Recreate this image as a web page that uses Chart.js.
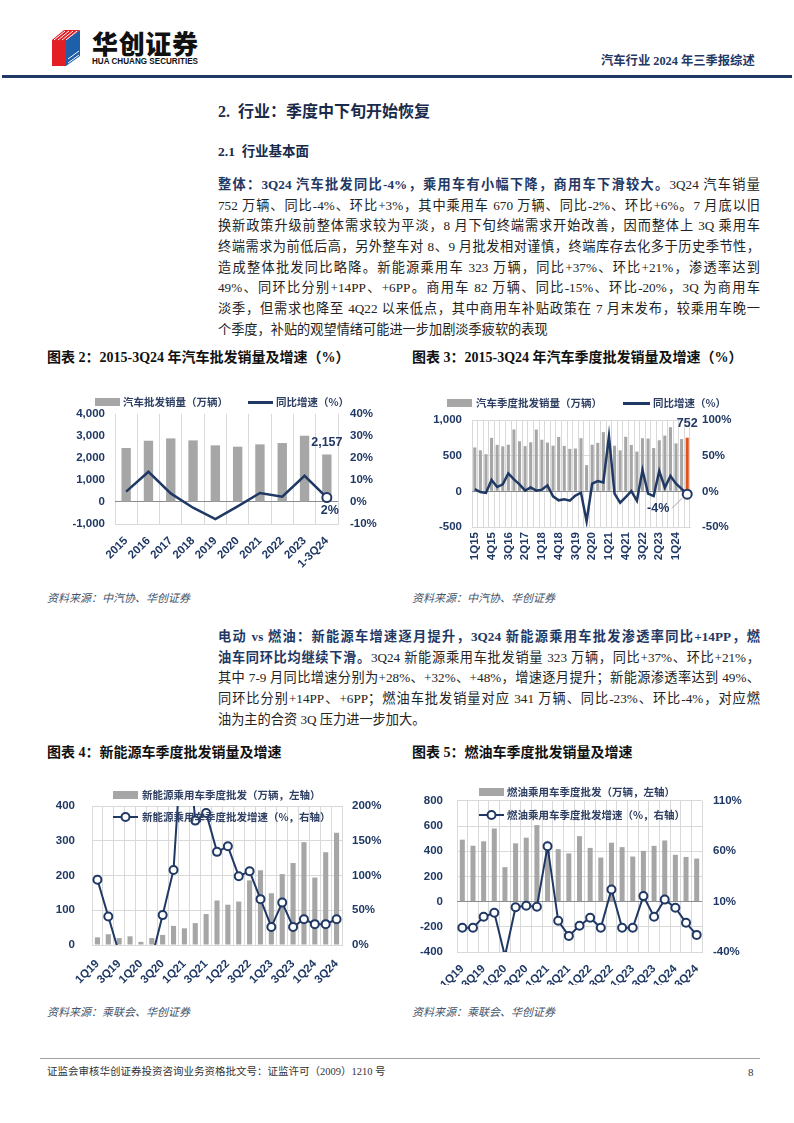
<!DOCTYPE html>
<html>
<head>
<meta charset="utf-8">
<script src="https://cdn.jsdelivr.net/npm/chart.js@4.4.1/dist/chart.umd.min.js"></script>
<style>
  html, body { margin: 0; padding: 0; background: #fff; }
  #page { position: relative; width: 794px; height: 1123px; overflow: hidden; background: #fff;
    font-family: "Liberation Serif", "Noto Sans CJK SC", serif; color: #222; }
  .abs { position: absolute; white-space: nowrap; }
  .para { position: absolute; left: 218px; width: 542px; font-size: 13.2px; line-height: 20.7px; }
  .para .ln { text-align: justify; text-align-last: justify; height: 20.7px; }
  .para .ln.last { text-align-last: left; }
  .em { font-weight: bold; color: #1f3864; }
  .ctitle { position: absolute; font-size: 14px; font-weight: bold; line-height: 18px; color: #111;
    font-family: "Liberation Serif", "Noto Sans CJK SC", serif; white-space: nowrap; }
  .src { position: absolute; font-size: 11px; font-style: italic; line-height: 14px; color: #44546a; white-space: nowrap;
    font-family: "Liberation Serif", "Noto Sans CJK SC", serif; }
  .cv { position: absolute; }
  .lgt { position: absolute; font-family: "Noto Sans CJK SC", sans-serif; font-size: 10.5px; font-weight: bold;
    color: #2e3f63; line-height: 14px; white-space: nowrap; z-index: 2; }
  .sw { position: absolute; z-index: 2; }
</style>
</head>
<body>
<div id="page">
  <!-- Header -->
  <svg class="abs" style="left:52px; top:28px;" width="160" height="40" viewBox="0 0 160 40">
    <polygon points="0,12 14,12 14,38 0,38" fill="#e31e24"/>
    <polygon points="14,12 28,2 28,28 14,38" fill="#1d5fa8"/>
    <polygon points="0,12 12,2 28,2 14,12" fill="#e31e24"/>
    <g stroke="#fff" stroke-width="1">
      <line x1="2" y1="12" x2="13" y2="3"/><line x1="6" y1="12" x2="17" y2="3"/>
      <line x1="10" y1="12" x2="21" y2="3"/><line x1="14" y1="12" x2="25" y2="3"/>
      <line x1="16" y1="31" x2="27" y2="23"/><line x1="16" y1="35" x2="27" y2="27"/>
    </g>
    <text x="40" y="26" font-family="Noto Sans CJK SC" font-weight="900" font-size="26" textLength="106" fill="#111">华创证券</text>
    <text x="40" y="36" font-family="Liberation Sans, Arial" font-weight="bold" font-size="8.5" textLength="106" lengthAdjust="spacingAndGlyphs" fill="#111">HUA CHUANG SECURITIES</text>
  </svg>
  <div class="abs" style="left:601px; top:52px; font-family:'Liberation Serif','Noto Sans CJK SC',serif; font-size:12.3px; font-weight:bold; color:#1f3864; line-height:18px;">汽车行业 2024 年三季报综述</div>
  <div class="abs" style="left:2px; top:75px; width:790px; height:3px; background:#1f3864;"></div>

  <!-- Section heading -->
  <div class="abs" style="left:218px; top:102px; font-size:16px; font-weight:bold; color:#1a2a4a; line-height:20px;">2.&nbsp; 行业：季度中下旬开始恢复</div>
  <div class="abs" style="left:218px; top:143px; font-size:13.5px; font-weight:bold; color:#1a2a4a; line-height:18px;">2.1&nbsp; 行业基本面</div>

  <div class="para" style="top:175px;">
    <div class="ln"><span class="em">整体：3Q24 汽车批发同比-4%，乘用车有小幅下降，商用车下滑较大。</span>3Q24 汽车销量</div>
    <div class="ln">752 万辆、同比-4%、环比+3%，其中乘用车 670 万辆、同比-2%、环比+6%。7 月底以旧</div>
    <div class="ln">换新政策升级前整体需求较为平淡，8 月下旬终端需求开始改善，因而整体上 3Q 乘用车</div>
    <div class="ln">终端需求为前低后高，另外整车对 8、9 月批发相对谨慎，终端库存去化多于历史季节性，</div>
    <div class="ln">造成整体批发同比略降。新能源乘用车 323 万辆，同比+37%、环比+21%，渗透率达到</div>
    <div class="ln">49%、同环比分别+14PP、+6PP。商用车 82 万辆、同比-15%、环比-20%，3Q 为商用车</div>
    <div class="ln">淡季，但需求也降至 4Q22 以来低点，其中商用车补贴政策在 7 月末发布，较乘用车晚一</div>
    <div class="ln last">个季度，补贴的观望情绪可能进一步加剧淡季疲软的表现</div>
  </div>

  <!-- Chart titles row 1 -->
  <div class="ctitle" style="left:47px; top:349px;">图表 2：2015-3Q24 年汽车批发销量及增速（%）</div>
  <div class="ctitle" style="left:412px; top:349px;">图表 3：2015-3Q24 年汽车季度批发销量及增速（%）</div>

  <canvas id="c2" class="cv" style="left:40px; top:395px;" width="355" height="190"></canvas>
  <canvas id="c3" class="cv" style="left:405px; top:395px;" width="355" height="190"></canvas>

  <!-- legends chart 2 -->
  <div class="sw" style="left:95px; top:398px; width:25px; height:8px; background:#a6a6a6;"></div>
  <div class="lgt" style="left:123px; top:395px;">汽车批发销量（万辆）</div>
  <div class="sw" style="left:248px; top:401px; width:25px; height:2.5px; background:#1f3864;"></div>
  <div class="lgt" style="left:276px; top:395px;">同比增速（%）</div>
  <!-- legends chart 3 -->
  <div class="sw" style="left:447px; top:399px; width:25px; height:8px; background:#a6a6a6;"></div>
  <div class="lgt" style="left:476px; top:396px;">汽车季度批发销量（万辆）</div>
  <div class="sw" style="left:623px; top:402px; width:27px; height:2.5px; background:#1f3864;"></div>
  <div class="lgt" style="left:653px; top:396px;">同比增速（%）</div>

  <div class="src" style="left:47px; top:591px;">资料来源：中汽协、华创证券</div>
  <div class="src" style="left:412px; top:591px;">资料来源：中汽协、华创证券</div>

  <div class="para" style="top:627px;">
    <div class="ln"><span class="em">电动 vs 燃油：新能源车增速逐月提升，3Q24 新能源乘用车批发渗透率同比+14PP，燃</span></div>
    <div class="ln"><span class="em">油车同环比均继续下滑。</span>3Q24 新能源乘用车批发销量 323 万辆，同比+37%、环比+21%，</div>
    <div class="ln">其中 7-9 月同比增速分别为+28%、+32%、+48%，增速逐月提升；新能源渗透率达到 49%、</div>
    <div class="ln">同环比分别+14PP、+6PP；燃油车批发销量对应 341 万辆、同比-23%、环比-4%，对应燃</div>
    <div class="ln last">油为主的合资 3Q 压力进一步加大。</div>
  </div>

  <!-- Chart titles row 2 -->
  <div class="ctitle" style="left:47px; top:744px;">图表 4：新能源车季度批发销量及增速</div>
  <div class="ctitle" style="left:412px; top:744px;">图表 5：燃油车季度批发销量及增速</div>

  <canvas id="c4" class="cv" style="left:40px; top:780px;" width="355" height="205"></canvas>
  <canvas id="c5" class="cv" style="left:405px; top:780px;" width="355" height="205"></canvas>

  <!-- legends chart 4 -->
  <div class="sw" style="left:113px; top:791px; width:25px; height:8px; background:#a6a6a6;"></div>
  <div class="lgt" style="left:142px; top:788px;">新能源乘用车季度批发（万辆，左轴）</div>
  <svg class="sw" style="left:111px; top:810px;" width="30" height="14"><line x1="2" y1="7" x2="27" y2="7" stroke="#1f3864" stroke-width="2"/><circle cx="14.5" cy="7" r="4" fill="#fff" stroke="#1f3864" stroke-width="2"/></svg>
  <div class="lgt" style="left:142px; top:810px;">新能源乘用车季度批发增速（%，右轴）</div>
  <!-- legends chart 5 -->
  <div class="sw" style="left:479px; top:788px; width:25px; height:8px; background:#a6a6a6;"></div>
  <div class="lgt" style="left:507px; top:785px;">燃油乘用车季度批发（万辆，左轴）</div>
  <svg class="sw" style="left:477px; top:808px;" width="30" height="14"><line x1="2" y1="7" x2="27" y2="7" stroke="#1f3864" stroke-width="2"/><circle cx="14.5" cy="7" r="4" fill="#fff" stroke="#1f3864" stroke-width="2"/></svg>
  <div class="lgt" style="left:507px; top:808px;">燃油乘用车季度批发增速（%，右轴）</div>

  <div class="src" style="left:47px; top:1005px;">资料来源：乘联会、华创证券</div>
  <div class="src" style="left:412px; top:1005px;">资料来源：乘联会、华创证券</div>

  <!-- Footer -->
  <div class="abs" style="left:40px; top:1058px; width:720px; height:1px; background:#a0a0a0;"></div>
  <div class="abs" style="left:47px; top:1065px; font-size:10.5px; line-height:14px; color:#333;">证监会审核华创证券投资咨询业务资格批文号：证监许可（2009）1210 号</div>
  <div class="abs" style="left:748px; top:1065px; font-size:11px; line-height:14px; color:#333;">8</div>
</div>

<script>
// ---- data: annual wholesale (chart 2) ----
const yearLabels = ['2015', '2016', '2017', '2018', '2019', '2020', '2021', '2022', '2023', '1-3Q24'];
const yearSales = [2451, 2782, 2887, 2797, 2571, 2511, 2616, 2677, 3008, 2157];
const yearYoy = [4.7, 13.7, 3.9, -2.6, -7.8, -2.0, 4.1, 2.4, 11.9, 2];

// ---- data: quarterly wholesale (chart 3) ----
const quarters = ['1Q15','2Q15','3Q15','4Q15','1Q16','2Q16','3Q16','4Q16','1Q17','2Q17','3Q17','4Q17',
  '1Q18','2Q18','3Q18','4Q18','1Q19','2Q19','3Q19','4Q19','1Q20','2Q20','3Q20','4Q20',
  '1Q21','2Q21','3Q21','4Q21','1Q22','2Q22','3Q22','4Q22','1Q23','2Q23','3Q23','4Q23','1Q24','2Q24','3Q24'];
const quarterSales = [615, 575, 520, 750, 652, 630, 654, 867, 701, 634, 687, 866,
  723, 683, 640, 762, 637, 595, 600, 745, 367, 653, 680, 830,
  648, 640, 574, 764, 650, 557, 745, 739, 607, 716, 782, 898, 672, 733, 752];
const quarterYoy = [3, -1, -2.3, 15.9, 6, 9.8, 25, 16.8, 9.8, 0.9, 5.6, 1,
  2.3, 8.4, -7, -12.6, -11.2, -13, -6, -2, -42, 11, 14.5, 12.6,
  77.6, -3.3, -16, -8, 0.3, -13, 29.8, -3.3, -6.6, 28.5, 5, 21.5, 10.7, 3.5, -4];

// ---- data: NEV / ICE passenger cars (charts 4, 5) ----
const pvQuarters = ['1Q19','2Q19','3Q19','4Q19','1Q20','2Q20','3Q20','4Q20','1Q21','2Q21','3Q21','4Q21',
  '1Q22','2Q22','3Q22','4Q22','1Q23','2Q23','3Q23','4Q23','1Q24','2Q24','3Q24'];
const nevSales = [22, 31, 20, 25, 9, 20, 29, 55, 48, 63, 89, 128, 116, 125, 186, 215, 149, 204, 236, 296, 194, 267, 323];
const nevYoy = [94, 41, -12, -40, -55, -19, 43, 108, 350, 179, 190, 134, 142, 99, 106, 66, 26, 61, 26, 37, 30, 30, 37];
const iceSales = [492, 444, 479, 581, 274, 463, 508, 608, 450, 417, 383, 520, 427, 350, 468, 433, 358, 403, 443, 486, 372, 355, 342];
const iceYoy = [-16, -16, -5, -1, -44, 4.5, 6, 5, 65, -9, -24, -14, -6, -16, 22, -16, -16, 15.5, -5, 12, 4, -11, -23];

const NAVY = '#1f3864';
const GRAY = '#a6a6a6';
const ORANGE = '#e0521b';
const GRID = '#d9d9d9';
const tickFont = { family: '"Liberation Sans", Arial, sans-serif', size: 11.5, weight: 'bold' };

Chart.defaults.animation = false;
Chart.defaults.devicePixelRatio = 1;
Chart.defaults.plugins.legend.display = false;
Chart.defaults.plugins.tooltip.enabled = false;

const fixWidth = w => s => { s.width = w; };
const fixHeight = h => s => { s.height = h; };
const fmt = v => Number(v).toLocaleString('en-US');

function xScale(height, rotation, padding, every, labels) {
  return {
    offset: true,
    grid: { offset: true, color: GRID, drawTicks: false },
    border: { color: GRID },
    ticks: {
      autoSkip: false, minRotation: rotation, maxRotation: rotation, padding: padding,
      color: NAVY, font: tickFont,
      callback: (v, i) => (i % every === 0 ? labels[i] : '')
    },
    afterFit: fixHeight(height)
  };
}

function yScale(pos, min, max, step, width, padding, fmtFn, gridColor) {
  return {
    position: pos, min: min, max: max,
    ticks: { stepSize: step, padding: padding, color: NAVY, font: tickFont, callback: fmtFn },
    grid: gridColor ? { color: gridColor, drawTicks: false } : { display: false, drawTicks: false },
    border: { display: false },
    afterFit: fixWidth(width)
  };
}

// Chart 2: annual
const c2Labels = {
  id: 'c2Labels',
  afterDatasetsDraw(chart) {
    const ctx = chart.ctx;
    const i = yearSales.length - 1;
    const x = chart.scales.x.getPixelForValue(i);
    const yBar = chart.scales.yL.getPixelForValue(yearSales[i]);
    const yPt = chart.scales.yR.getPixelForValue(yearYoy[i]);
    ctx.save();
    ctx.font = 'bold 12.5px "Liberation Sans", Arial';
    ctx.fillStyle = NAVY;
    ctx.textAlign = 'center';
    ctx.textBaseline = 'bottom';
    ctx.fillText(fmt(yearSales[i]), x, yBar - 6);
    ctx.textBaseline = 'top';
    ctx.fillText(yearYoy[i] + '%', x + 3, yPt + 7);
    ctx.restore();
  }
};

new Chart(document.getElementById('c2'), {
  data: {
    labels: yearLabels,
    datasets: [
      { type: 'line', data: yearYoy, yAxisID: 'yR', borderColor: NAVY, borderWidth: 2.5, tension: 0,
        pointRadius: yearYoy.map((v, i) => (i === yearYoy.length - 1 ? 4.5 : 0)),
        pointBackgroundColor: '#fff', pointBorderColor: NAVY, pointBorderWidth: 2, order: 0 },
      { type: 'bar', data: yearSales, yAxisID: 'yL', backgroundColor: GRAY,
        barPercentage: 0.42, categoryPercentage: 1, order: 1 }
    ]
  },
  options: {
    responsive: false,
    layout: { padding: { top: 18, left: 0, right: 0, bottom: 0 } },
    scales: {
      x: xScale(61, 45, 10, 1, yearLabels),
      yL: yScale('left', -1000, 4000, 1000, 75, 10, fmt, ctx => (ctx.tick.value === 0 ? '#8c8c8c' : 'rgba(0,0,0,0)')),
      yR: yScale('right', -10, 40, 10, 57, 12, v => v + '%', null)
    }
  },
  plugins: [c2Labels]
});

// Chart 3: quarterly
const c3Labels = {
  id: 'c3Labels',
  afterDatasetsDraw(chart) {
    const ctx = chart.ctx;
    const i = quarterSales.length - 1;
    const x = chart.scales.x.getPixelForValue(i);
    const yBar = chart.scales.yL.getPixelForValue(quarterSales[i]);
    const yPt = chart.scales.yR.getPixelForValue(quarterYoy[i]);
    ctx.save();
    ctx.font = 'bold 12.5px "Liberation Sans", Arial';
    ctx.fillStyle = NAVY;
    ctx.textAlign = 'center';
    ctx.textBaseline = 'bottom';
    ctx.fillText(fmt(quarterSales[i]), x, yBar - 8);
    ctx.strokeStyle = GRAY;
    ctx.lineWidth = 1;
    ctx.beginPath();
    ctx.moveTo(x - 15, yPt + 14);
    ctx.lineTo(x - 5, yPt + 4);
    ctx.stroke();
    ctx.textBaseline = 'middle';
    ctx.fillText(quarterYoy[i] + '%', x - 29, yPt + 14);
    ctx.restore();
  }
};

new Chart(document.getElementById('c3'), {
  data: {
    labels: quarters,
    datasets: [
      { type: 'line', data: quarterYoy, yAxisID: 'yR', borderColor: NAVY, borderWidth: 2.5, tension: 0,
        pointRadius: quarterYoy.map((v, i) => (i === quarterYoy.length - 1 ? 4.5 : 0)),
        pointBackgroundColor: '#fff', pointBorderColor: NAVY, pointBorderWidth: 2, order: 0 },
      { type: 'bar', data: quarterSales, yAxisID: 'yL',
        backgroundColor: quarterSales.map((v, i) => (i === quarterSales.length - 1 ? ORANGE : GRAY)),
        barPercentage: 0.55, categoryPercentage: 1, order: 1 }
    ]
  },
  options: {
    responsive: false,
    layout: { padding: { top: 25, left: 0, right: 0, bottom: 0 } },
    scales: {
      x: xScale(58, 90, 5, 3, quarters),
      yL: yScale('left', -500, 1000, 500, 67, 10, fmt, ctx => (ctx.tick.value === 0 ? '#8c8c8c' : GRID)),
      yR: yScale('right', -50, 100, 50, 70, 12, v => v + '%', null)
    }
  },
  plugins: [c3Labels]
});

// Charts 4 and 5: passenger cars, bar + marker line
function pvChart(id, sales, yoy, cfg) {
  new Chart(document.getElementById(id), {
    data: {
      labels: pvQuarters,
      datasets: [
        { type: 'line', data: yoy, yAxisID: 'yR', borderColor: NAVY, borderWidth: 2, tension: 0,
          pointRadius: 4, pointBackgroundColor: '#fff', pointBorderColor: NAVY, pointBorderWidth: 2, order: 0 },
        { type: 'bar', data: sales, yAxisID: 'yL', backgroundColor: GRAY,
          barPercentage: 0.47, categoryPercentage: 1, order: 1 }
      ]
    },
    options: {
      responsive: false,
      layout: { padding: { top: cfg.top, left: 0, right: 0, bottom: 0 } },
      scales: {
        x: xScale(cfg.xh, 45, cfg.xpad, 2, pvQuarters),
        yL: yScale('left', cfg.lmin, cfg.lmax, cfg.lstep, cfg.lw, cfg.lpad, fmt,
          ctx => (ctx.tick.value === 0 && cfg.lmin < 0 ? '#8c8c8c' : GRID)),
        yR: yScale('right', cfg.rmin, cfg.rmax, cfg.rstep, cfg.rw, cfg.rpad, v => v + '%', null)
      }
    }
  });
}

pvChart('c4', nevSales, nevYoy, { top: 26, xh: 40, xpad: 12, lmin: 0, lmax: 400, lstep: 100, lw: 52, lpad: 17,
  rmin: 0, rmax: 200, rstep: 50, rw: 53, rpad: 10 });
pvChart('c5', iceSales, iceYoy, { top: 20, xh: 33, xpad: 10, lmin: -400, lmax: 800, lstep: 200, lw: 52, lpad: 14,
  rmin: -40, rmax: 110, rstep: 50, rw: 58, rpad: 11 });
</script>
</body>
</html>
